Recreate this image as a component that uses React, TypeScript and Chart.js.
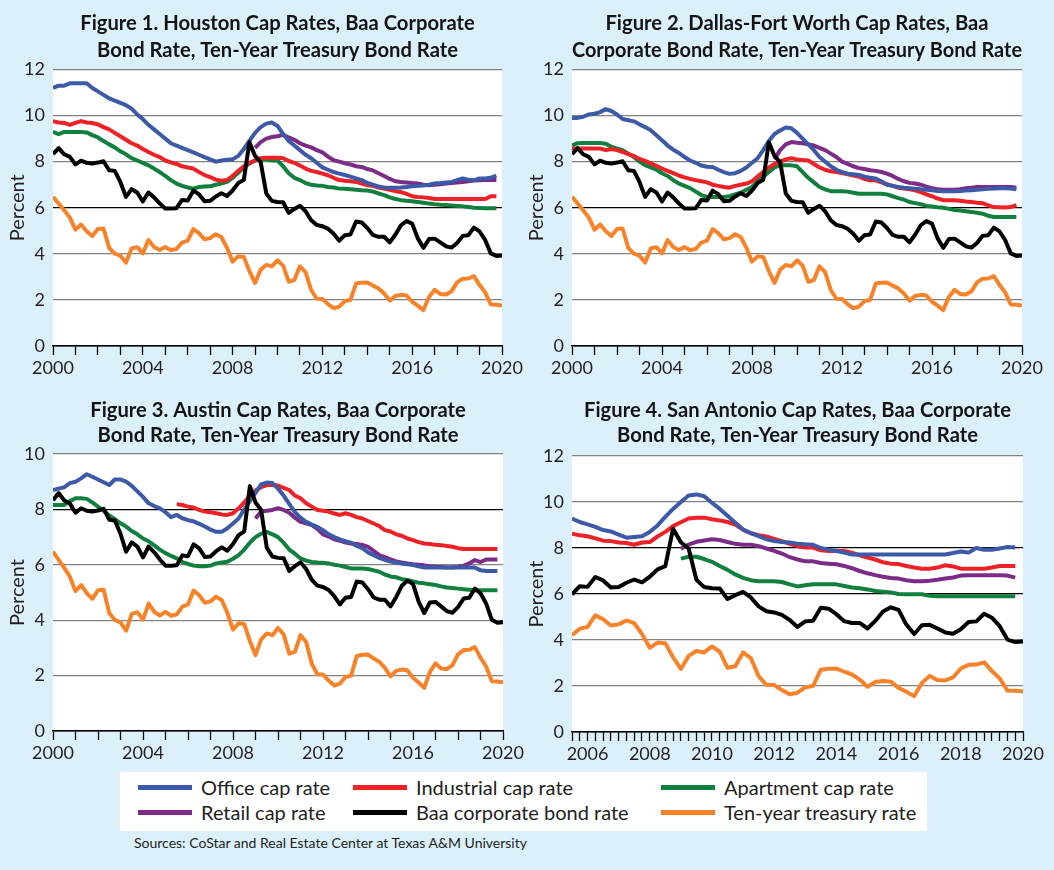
import React, { useEffect, useRef } from 'react';
import { Chart, registerables } from 'chart.js';

Chart.register(...registerables);

const N = null;
const FONT = "Lato, 'Open Sans', sans-serif";
const TITLE_SIZE = 20.2;

// ---------- shared national series, quarterly from 2000 Q1 ----------
const RATE_START = 2000;
const baaRate = [
  8.33, 8.59, 8.32, 8.21, 7.88, 8.04, 7.95, 7.92, 7.96, 8.02, 7.63, 7.6,
  7.12, 6.47, 6.81, 6.66, 6.27, 6.66, 6.45, 6.19, 5.97, 5.97, 5.98, 6.34,
  6.31, 6.74, 6.59, 6.28, 6.3, 6.49, 6.63, 6.51, 6.75, 7.07, 7.21, 8.84,
  8.25, 7.98, 6.62, 6.3, 6.25, 6.24, 5.78, 5.95, 6.09, 5.85, 5.46, 5.25,
  5.2, 5.09, 4.87, 4.57, 4.81, 4.84, 5.4, 5.36, 5.12, 4.82, 4.74, 4.74,
  4.5, 4.83, 5.24, 5.42, 5.31, 4.67, 4.26, 4.64, 4.66, 4.5, 4.33, 4.27,
  4.47, 4.78, 4.81, 5.14, 4.97, 4.6, 4.02, 3.91, 3.93,
];
const treasuryRate = [
  6.48, 6.18, 5.89, 5.57, 5.05, 5.27, 4.98, 4.77, 5.08, 5.1, 4.26, 4.01,
  3.92, 3.62, 4.23, 4.29, 4.02, 4.6, 4.3, 4.17, 4.3, 4.16, 4.21, 4.49,
  4.57, 5.07, 4.9, 4.63, 4.68, 4.85, 4.73, 4.26, 3.66, 3.89, 3.86, 3.25,
  2.74, 3.31, 3.52, 3.46, 3.72, 3.49, 2.79, 2.86, 3.46, 3.21, 2.43, 2.05,
  2.04, 1.82, 1.64, 1.71, 1.95, 2.0, 2.71, 2.75, 2.76, 2.62, 2.5, 2.28,
  1.97, 2.17, 2.22, 2.19, 1.92, 1.75, 1.56, 2.13, 2.44, 2.26, 2.24, 2.37,
  2.76, 2.92, 2.93, 3.03, 2.65, 2.33, 1.8, 1.79, 1.76,
];

// ---------- Houston, quarterly from 2000 Q1 ----------
const houOffice = [
  11.2, 11.3, 11.3, 11.4, 11.4, 11.4, 11.4, 11.2, 11.05, 10.9, 10.75, 10.65,
  10.55, 10.45, 10.3, 10.05, 9.85, 9.6, 9.4, 9.2, 9.0, 8.8, 8.7, 8.6,
  8.5, 8.4, 8.3, 8.2, 8.1, 8.0, 8.05, 8.08, 8.1, 8.25, 8.55, 8.9,
  9.25, 9.5, 9.65, 9.7, 9.55, 9.2, 8.9, 8.7, 8.5, 8.3, 8.15, 7.95,
  7.75, 7.65, 7.55, 7.48, 7.42, 7.35, 7.27, 7.2, 7.08, 7.0, 6.92, 6.88,
  6.87, 6.87, 6.88, 6.9, 6.93, 6.95, 6.97, 7.0, 7.05, 7.07, 7.1, 7.12,
  7.2, 7.27, 7.22, 7.19, 7.27, 7.27, 7.3, 7.4,
];
const houIndustrial = [
  9.76, 9.7, 9.68, 9.6, 9.68, 9.76, 9.7, 9.68, 9.62, 9.5, 9.4, 9.25,
  9.1, 8.95, 8.8, 8.7, 8.55, 8.42, 8.3, 8.2, 8.05, 7.97, 7.9, 7.8,
  7.75, 7.7, 7.55, 7.42, 7.33, 7.22, 7.17, 7.2, 7.38, 7.6, 7.8, 7.95,
  8.05, 8.15, 8.17, 8.17, 8.17, 8.15, 8.03, 7.95, 7.83, 7.7, 7.6, 7.55,
  7.48, 7.41, 7.3, 7.2, 7.17, 7.15, 7.12, 7.05, 6.98, 6.95, 6.88, 6.83,
  6.78, 6.72, 6.68, 6.6, 6.5, 6.47, 6.45, 6.42, 6.38, 6.38, 6.38, 6.38,
  6.38, 6.38, 6.38, 6.38, 6.38, 6.38, 6.5, 6.5,
];
const houApartment = [
  9.29, 9.2, 9.29, 9.29, 9.29, 9.29, 9.27, 9.15, 9.05, 8.9, 8.75, 8.62,
  8.45, 8.32, 8.15, 8.05, 7.95, 7.84, 7.7, 7.55, 7.38, 7.2, 7.05, 6.95,
  6.88, 6.83, 6.9, 6.92, 6.93, 7.0, 7.05, 7.12, 7.3, 7.52, 7.75, 7.92,
  8.05, 8.1, 8.1, 8.05, 8.05, 7.8, 7.5, 7.3, 7.2, 7.07, 7.0, 6.97,
  6.95, 6.9, 6.88, 6.83, 6.82, 6.8, 6.78, 6.76, 6.75, 6.7, 6.62, 6.55,
  6.45, 6.38, 6.33, 6.3, 6.28, 6.25, 6.22, 6.18, 6.15, 6.13, 6.12, 6.1,
  6.08, 6.06, 6.03, 6.0, 5.99, 5.98, 5.98, 5.98,
];
const houRetail = [
  N, N, N, N, N, N, N, N, N, N, N, N, N, N, N, N, N, N, N, N, N, N, N, N,
  N, N, N, N, N, N, N, N, N, N, N, N,
  8.6, 8.85, 9.0, 9.07, 9.1, 9.17, 9.05, 8.95, 8.8, 8.7, 8.62, 8.5,
  8.4, 8.22, 8.06, 8.0, 7.93, 7.88, 7.8, 7.77, 7.68, 7.62, 7.5, 7.38,
  7.25, 7.15, 7.12, 7.1, 7.07, 7.05, 7.0, 6.98, 7.0, 7.02, 7.05, 7.07,
  7.1, 7.12, 7.15, 7.18, 7.19, 7.2, 7.2, 7.2,
];

// ---------- Dallas-Fort Worth, quarterly from 2000 Q1 ----------
const dfwOffice = [
  9.9, 9.9, 9.95, 10.05, 10.08, 10.15, 10.28, 10.2, 10.05, 9.85, 9.8, 9.75,
  9.62, 9.5, 9.36, 9.15, 8.93, 8.7, 8.52, 8.38, 8.2, 8.05, 7.95, 7.83,
  7.78, 7.77, 7.65, 7.55, 7.47, 7.5, 7.6, 7.75, 7.95, 8.15, 8.5, 8.9,
  9.2, 9.35, 9.48, 9.45, 9.25, 9.0, 8.75, 8.5, 8.2, 8.0, 7.8, 7.65,
  7.55, 7.48, 7.45, 7.42, 7.35, 7.3, 7.27, 7.15, 7.0, 6.95, 6.9, 6.87,
  6.85, 6.83, 6.8, 6.78, 6.76, 6.73, 6.72, 6.72, 6.72, 6.73, 6.75, 6.76,
  6.78, 6.8, 6.82, 6.83, 6.85, 6.85, 6.83, 6.8,
];
const dfwIndustrial = [
  8.57, 8.57, 8.57, 8.57, 8.57, 8.57, 8.5, 8.55, 8.5, 8.42, 8.33, 8.25,
  8.12, 8.03, 7.93, 7.82, 7.7, 7.6, 7.5, 7.4, 7.32, 7.25, 7.2, 7.15,
  7.1, 7.0, 6.95, 6.9, 6.87, 6.95, 7.0, 7.05, 7.15, 7.35, 7.55, 7.75,
  7.9, 8.0, 8.1, 8.15, 8.1, 8.07, 8.05, 7.9, 7.75, 7.65, 7.58, 7.55,
  7.51, 7.45, 7.4, 7.35, 7.25, 7.19, 7.19, 7.1, 7.02, 6.95, 6.87, 6.83,
  6.8, 6.76, 6.68, 6.58, 6.5, 6.4, 6.33, 6.33, 6.33, 6.3, 6.27, 6.25,
  6.22, 6.2, 6.1, 6.03, 6.02, 6.01, 6.03, 6.11,
];
const dfwApartment = [
  8.71, 8.8, 8.81, 8.81, 8.81, 8.81, 8.78, 8.65, 8.57, 8.5, 8.35, 8.2,
  8.0, 7.85, 7.75, 7.65, 7.5, 7.38, 7.2, 7.05, 6.95, 6.85, 6.7, 6.55,
  6.47, 6.47, 6.47, 6.47, 6.5, 6.58, 6.65, 6.78, 6.9, 7.15, 7.35, 7.55,
  7.75, 7.84, 7.84, 7.84, 7.8, 7.55, 7.3, 7.1, 6.9, 6.8, 6.72, 6.72,
  6.72, 6.7, 6.65, 6.61, 6.61, 6.61, 6.61, 6.61, 6.58, 6.5, 6.42, 6.35,
  6.25, 6.2, 6.15, 6.08, 6.05, 6.02, 6.0, 5.95, 5.9, 5.88, 5.85, 5.82,
  5.78, 5.74, 5.65, 5.6, 5.6, 5.6, 5.6, 5.6,
];
const dfwRetail = [
  N, N, N, N, N, N, N, N, N, N, N, N, N, N, N, N, N, N, N, N, N, N, N, N,
  N, N, N, N, N, N, N, N, N, N, N, N,
  8.1, 8.5, 8.75, 8.85, 8.82, 8.8, 8.75, 8.7, 8.6, 8.5, 8.35, 8.2,
  8.0, 7.9, 7.8, 7.72, 7.68, 7.63, 7.6, 7.55, 7.48, 7.38, 7.25, 7.15,
  7.08, 7.05, 7.0, 6.92, 6.85, 6.8, 6.78, 6.78, 6.78, 6.8, 6.85, 6.87,
  6.9, 6.9, 6.9, 6.9, 6.9, 6.9, 6.9, 6.87,
];

// ---------- Austin, quarterly from 2000 Q1 ----------
const ausOffice = [
  8.7, 8.75, 8.8, 8.95, 9.0, 9.12, 9.27, 9.18, 9.08, 8.98, 8.88, 9.08,
  9.08, 9.0, 8.85, 8.65, 8.45, 8.22, 8.12, 8.04, 7.9, 7.72, 7.8, 7.68,
  7.61, 7.57, 7.48, 7.38, 7.27, 7.19, 7.19, 7.32, 7.49, 7.67, 8.0, 8.3,
  8.6, 8.9, 8.97, 8.95, 8.75, 8.5, 8.2, 7.9, 7.7, 7.55, 7.45, 7.37,
  7.25, 7.1, 7.0, 6.92, 6.85, 6.8, 6.68, 6.6, 6.45, 6.35, 6.25, 6.18,
  6.12, 6.08, 6.05, 6.02, 5.99, 5.95, 5.9, 5.9, 5.9, 5.9, 5.9, 5.9,
  5.9, 5.9, 5.9, 5.9, 5.8, 5.78, 5.78, 5.78,
];
const ausIndustrial = [
  N, N, N, N, N, N, N, N, N, N, N, N, N, N, N, N, N, N, N, N, N, N,
  8.19, 8.16,
  8.1, 8.07, 7.98, 7.92, 7.9, 7.86, 7.82, 7.8, 7.86, 8.04, 8.25, 8.5,
  8.68, 8.8, 8.88, 8.88, 8.86, 8.78, 8.7, 8.5, 8.4, 8.22, 8.1, 7.98,
  7.95, 7.92, 7.85, 7.8, 7.86, 7.8, 7.72, 7.67, 7.58, 7.49, 7.4, 7.25,
  7.2, 7.1, 7.05, 6.95, 6.89, 6.82, 6.77, 6.75, 6.72, 6.71, 6.68, 6.65,
  6.6, 6.57, 6.57, 6.57, 6.57, 6.57, 6.57, 6.57,
];
const ausApartment = [
  8.16, 8.16, 8.16, 8.3, 8.4, 8.4, 8.38, 8.25, 8.1, 7.95, 7.78, 7.65,
  7.5, 7.38, 7.22, 7.1, 6.95, 6.85, 6.7, 6.55, 6.42, 6.32, 6.23, 6.1,
  6.03, 5.97, 5.95, 5.95, 5.97, 6.05, 6.08, 6.11, 6.22, 6.35, 6.55, 6.8,
  7.0, 7.12, 7.19, 7.1, 7.0, 6.8, 6.55, 6.4, 6.23, 6.15, 6.1, 6.08,
  6.07, 6.05, 6.0, 5.97, 5.92, 5.87, 5.87, 5.87, 5.85, 5.8, 5.75, 5.65,
  5.58, 5.55, 5.48, 5.45, 5.4, 5.35, 5.33, 5.3, 5.27, 5.22, 5.18, 5.16,
  5.14, 5.12, 5.1, 5.08, 5.08, 5.08, 5.08, 5.08,
];
const ausRetail = [
  N, N, N, N, N, N, N, N, N, N, N, N, N, N, N, N, N, N, N, N, N, N, N, N,
  N, N, N, N, N, N, N, N, N, N, N, N,
  7.67, 7.92, 7.95, 7.98, 8.04, 7.98, 7.88, 7.7, 7.55, 7.5, 7.43, 7.3,
  7.1, 7.02, 6.92, 6.87, 6.8, 6.77, 6.75, 6.72, 6.65, 6.5, 6.35, 6.28,
  6.2, 6.12, 6.08, 6.05, 6.02, 6.0, 5.98, 5.95, 5.93, 5.92, 5.9, 5.9,
  5.92, 5.97, 6.05, 6.17, 6.1, 6.19, 6.19, 6.19,
];

// ---------- San Antonio, quarterly from 2005 Q3 ----------
const SA_START = 2005.5;
const saOffice = [
  9.28, 9.13,
  9.03, 8.92, 8.78, 8.72, 8.58, 8.45, 8.48, 8.51, 8.7, 8.98, 9.35, 9.7,
  10.0, 10.28, 10.33, 10.25, 9.97, 9.7, 9.4, 9.1, 8.8, 8.65, 8.52, 8.38,
  8.3, 8.26, 8.24, 8.19, 8.16, 8.14, 8.0, 7.93, 7.87, 7.8, 7.72, 7.72,
  7.72, 7.72, 7.72, 7.72, 7.72, 7.72, 7.72, 7.72, 7.72, 7.72, 7.72, 7.78,
  7.85, 7.8, 8.0, 7.92, 7.92, 7.98, 8.04, 8.02,
];
const saIndustrial = [
  8.62, 8.55,
  8.51, 8.42, 8.32, 8.3, 8.24, 8.22, 8.14, 8.24, 8.26, 8.5, 8.7, 8.95,
  9.12, 9.28, 9.32, 9.32, 9.25, 9.2, 9.13, 9.02, 8.8, 8.64, 8.56, 8.5,
  8.4, 8.3, 8.18, 8.08, 8.02, 8.02, 7.9, 7.87, 7.87, 7.87, 7.8, 7.68,
  7.58, 7.5, 7.38, 7.32, 7.3, 7.22, 7.15, 7.1, 7.1, 7.15, 7.25, 7.2,
  7.1, 7.1, 7.1, 7.1, 7.15, 7.22, 7.22, 7.22,
];
const saApartment = [
  N, N, N, N, N, N, N, N, N, N, N, N, N, N,
  7.54, 7.62, 7.62, 7.52, 7.4, 7.22, 7.05, 6.85, 6.7, 6.6, 6.55, 6.55,
  6.55, 6.52, 6.42, 6.33, 6.38, 6.42, 6.42, 6.42, 6.42, 6.35, 6.28, 6.25,
  6.2, 6.13, 6.1, 6.07, 6.0, 5.99, 5.99, 5.99, 5.92, 5.9, 5.9, 5.9,
  5.9, 5.9, 5.9, 5.9, 5.9, 5.9, 5.9, 5.9,
];
const saRetail = [
  N, N, N, N, N, N, N, N, N, N, N, N, N, N,
  7.97, 8.15, 8.27, 8.33, 8.38, 8.35, 8.26, 8.18, 8.14, 8.14, 8.08, 7.98,
  7.88, 7.76, 7.6, 7.5, 7.42, 7.42, 7.35, 7.32, 7.29, 7.22, 7.12, 7.0,
  6.9, 6.82, 6.75, 6.7, 6.67, 6.6, 6.55, 6.55, 6.58, 6.62, 6.67, 6.72,
  6.8, 6.81, 6.81, 6.81, 6.81, 6.81, 6.8, 6.71,
];

// ---------- legend / colours ----------
const seriesNames = [
  'Office cap rate', 'Industrial cap rate', 'Apartment cap rate',
  'Retail cap rate', 'Baa corporate bond rate', 'Ten-year treasury rate',
];
const seriesColors = ['#3d5aa8', '#ee2127', '#11803f', '#7c2b86', '#000000', '#f6832a'];
// draw order: Baa on top, treasury at bottom
const seriesOrder = [1, 3, 4, 2, 0, 5];

const titles = [
  ['Figure 1. Houston Cap Rates, Baa Corporate', 'Bond Rate, Ten-Year Treasury Bond Rate'],
  ['Figure 2. Dallas-Fort Worth Cap Rates, Baa', 'Corporate Bond Rate, Ten-Year Treasury Bond Rate'],
  ['Figure 3. Austin Cap Rates, Baa Corporate', 'Bond Rate, Ten-Year Treasury Bond Rate'],
  ['Figure 4. San Antonio Cap Rates, Baa Corporate', 'Bond Rate, Ten-Year Treasury Bond Rate'],
];

const toPoints = (vals: (number | null)[], start: number) =>
  vals.map((v, i) => ({ x: start + i / 4, y: v }));

type Panel = {
  title: string[];
  left: number; top: number; width: number; height: number;
  padRight: number;
  titleLH: number; titlePadTop: number; titlePadBottom: number;
  xAxisH: number;
  yMax: number; dark: number[];
  xMin: number; xStep: number; labelEvery: number;
  series: { vals: (number | null)[]; start: number }[];
};

const panels: Panel[] = [
  {
    title: titles[0], left: 0, top: 0, width: 527, height: 390, padRight: 25,
    titleLH: 27, titlePadTop: 9.5, titlePadBottom: 6, xAxisH: 44,
    yMax: 12, dark: [0, 6], xMin: 2000, xStep: 1, labelEvery: 4,
    series: [
      { vals: houOffice, start: 2000 }, { vals: houIndustrial, start: 2000 },
      { vals: houApartment, start: 2000 }, { vals: houRetail, start: 2000 },
      { vals: baaRate, start: RATE_START }, { vals: treasuryRate, start: RATE_START },
    ],
  },
  {
    title: titles[1], left: 519, top: 0, width: 535, height: 390, padRight: 32,
    titleLH: 27, titlePadTop: 9.5, titlePadBottom: 6, xAxisH: 44,
    yMax: 12, dark: [0, 6], xMin: 2000, xStep: 1, labelEvery: 4,
    series: [
      { vals: dfwOffice, start: 2000 }, { vals: dfwIndustrial, start: 2000 },
      { vals: dfwApartment, start: 2000 }, { vals: dfwRetail, start: 2000 },
      { vals: baaRate, start: RATE_START }, { vals: treasuryRate, start: RATE_START },
    ],
  },
  {
    title: titles[2], left: 0, top: 390, width: 527, height: 385, padRight: 24,
    titleLH: 25, titlePadTop: 7.5, titlePadBottom: 6.5, xAxisH: 44,
    yMax: 10, dark: [0, 8], xMin: 2000, xStep: 1, labelEvery: 4,
    series: [
      { vals: ausOffice, start: 2000 }, { vals: ausIndustrial, start: 2000 },
      { vals: ausApartment, start: 2000 }, { vals: ausRetail, start: 2000 },
      { vals: baaRate, start: RATE_START }, { vals: treasuryRate, start: RATE_START },
    ],
  },
  {
    title: titles[3], left: 519, top: 390, width: 535, height: 385, padRight: 31,
    titleLH: 25, titlePadTop: 7.5, titlePadBottom: 8.5, xAxisH: 43,
    yMax: 12, dark: [0, 6, 8], xMin: SA_START, xStep: 0.25, labelEvery: 2,
    series: [
      { vals: saOffice, start: SA_START }, { vals: saIndustrial, start: SA_START },
      { vals: saApartment, start: SA_START }, { vals: saRetail, start: SA_START },
      { vals: baaRate.slice(22), start: SA_START }, { vals: treasuryRate.slice(22), start: SA_START },
    ],
  },
];

const whiteArea = {
  id: 'whiteArea',
  beforeDraw(chart: any) {
    const { ctx, chartArea: a } = chart;
    ctx.save();
    ctx.fillStyle = '#ffffff';
    ctx.fillRect(a.left, a.top, a.right - a.left, a.bottom - a.top);
    ctx.restore();
  },
};

function PanelChart({ p }: { p: Panel }) {
  const ref = useRef<HTMLCanvasElement>(null);
  useEffect(() => {
    if (!ref.current) return;
    const chart = new Chart(ref.current, {
      type: 'line',
      data: {
        datasets: p.series.map((s, i) => ({
          label: seriesNames[i],
          data: toPoints(s.vals, s.start),
          borderColor: seriesColors[i],
          backgroundColor: seriesColors[i],
          borderWidth: 4,
          pointRadius: 0,
          tension: 0,
          fill: false,
          spanGaps: false,
          borderJoinStyle: 'round' as const,
          order: seriesOrder[i],
        })),
      },
      options: {
        animation: false,
        responsive: false,
        devicePixelRatio: 1,
        layout: { padding: { left: 0, right: p.padRight, top: 0, bottom: 0 } },
        plugins: {
          legend: { display: false },
          tooltip: { enabled: false },
          title: {
            display: true,
            text: p.title,
            fullSize: false,
            color: '#141414',
            font: { family: FONT, size: TITLE_SIZE, weight: 'bold', lineHeight: p.titleLH / TITLE_SIZE },
            padding: { top: p.titlePadTop, bottom: p.titlePadBottom },
          },
        },
        scales: {
          x: {
            type: 'linear',
            min: p.xMin,
            max: 2020,
            afterFit: (s: any) => { s.height = p.xAxisH; },
            ticks: {
              stepSize: p.xStep,
              autoSkip: false,
              maxRotation: 0,
              minRotation: 0,
              padding: 2,
              color: '#231f20',
              font: { family: FONT, size: 18 },
              callback: (value: any) => {
                const v = Number(value);
                const r = Math.round(v);
                return Math.abs(v - r) < 1e-6 && r % p.labelEvery === 0 ? String(r) : '';
              },
            },
            grid: {
              drawOnChartArea: false,
              drawTicks: true,
              tickLength: 9,
              tickColor: '#000',
              tickWidth: 1.3,
            },
            border: { display: true, color: '#000', width: 1.5 },
          },
          y: {
            min: 0,
            max: p.yMax,
            afterFit: (s: any) => { s.width = 53; },
            ticks: {
              stepSize: 2,
              padding: 8,
              color: '#231f20',
              font: { family: FONT, size: 18 },
            },
            grid: {
              drawTicks: false,
              lineWidth: 1.3,
              color: (ctx: any) => (p.dark.includes(ctx.tick?.value) ? '#000' : '#828282'),
            },
            border: { display: false },
            title: {
              display: true,
              text: 'Percent',
              color: '#231f20',
              font: { family: FONT, size: 20 },
              padding: { top: 6, bottom: 0 },
            },
          },
        },
      },
      plugins: [whiteArea],
    } as any);
    return () => chart.destroy();
  }, [p]);
  return (
    <canvas
      ref={ref}
      width={p.width}
      height={p.height}
      style={{ position: 'absolute', left: p.left, top: p.top, width: p.width, height: p.height }}
    />
  );
}

const legendCols = [18, 233, 541];
const legendRows = [15, 40];

export default function App() {
  return (
    <div
      style={{
        position: 'absolute', left: 0, top: 0, width: 1054, height: 870,
        background: '#dcf0fb', overflow: 'hidden', fontFamily: FONT,
      }}
    >
      {panels.map((p, i) => <PanelChart key={i} p={p} />)}
      <div
        style={{
          position: 'absolute', left: 120, top: 772, width: 807, height: 59,
          background: '#ffffff',
        }}
      >
        {[0, 3, 1, 4, 2, 5].map((si, k) => {
          const col = Math.floor(k / 2);
          const row = k % 2;
          const cx = legendCols[col];
          const cy = legendRows[row];
          return (
            <React.Fragment key={si}>
              <div
                style={{
                  position: 'absolute', left: cx, top: cy - 2.5, width: 54, height: 5,
                  background: seriesColors[si],
                }}
              />
              <div
                style={{
                  position: 'absolute', left: cx + 63, top: cy - 13, height: 26,
                  lineHeight: '26px', fontSize: 20, color: '#231f20', whiteSpace: 'nowrap',
                }}
              >
                {seriesNames[si]}
              </div>
            </React.Fragment>
          );
        })}
      </div>
      <div
        style={{
          position: 'absolute', left: 134, top: 834, fontSize: 14, lineHeight: '18px',
          color: '#231f20', whiteSpace: 'nowrap',
        }}
      >
        Sources: CoStar and Real Estate Center at Texas A&amp;M University
      </div>
    </div>
  );
}
